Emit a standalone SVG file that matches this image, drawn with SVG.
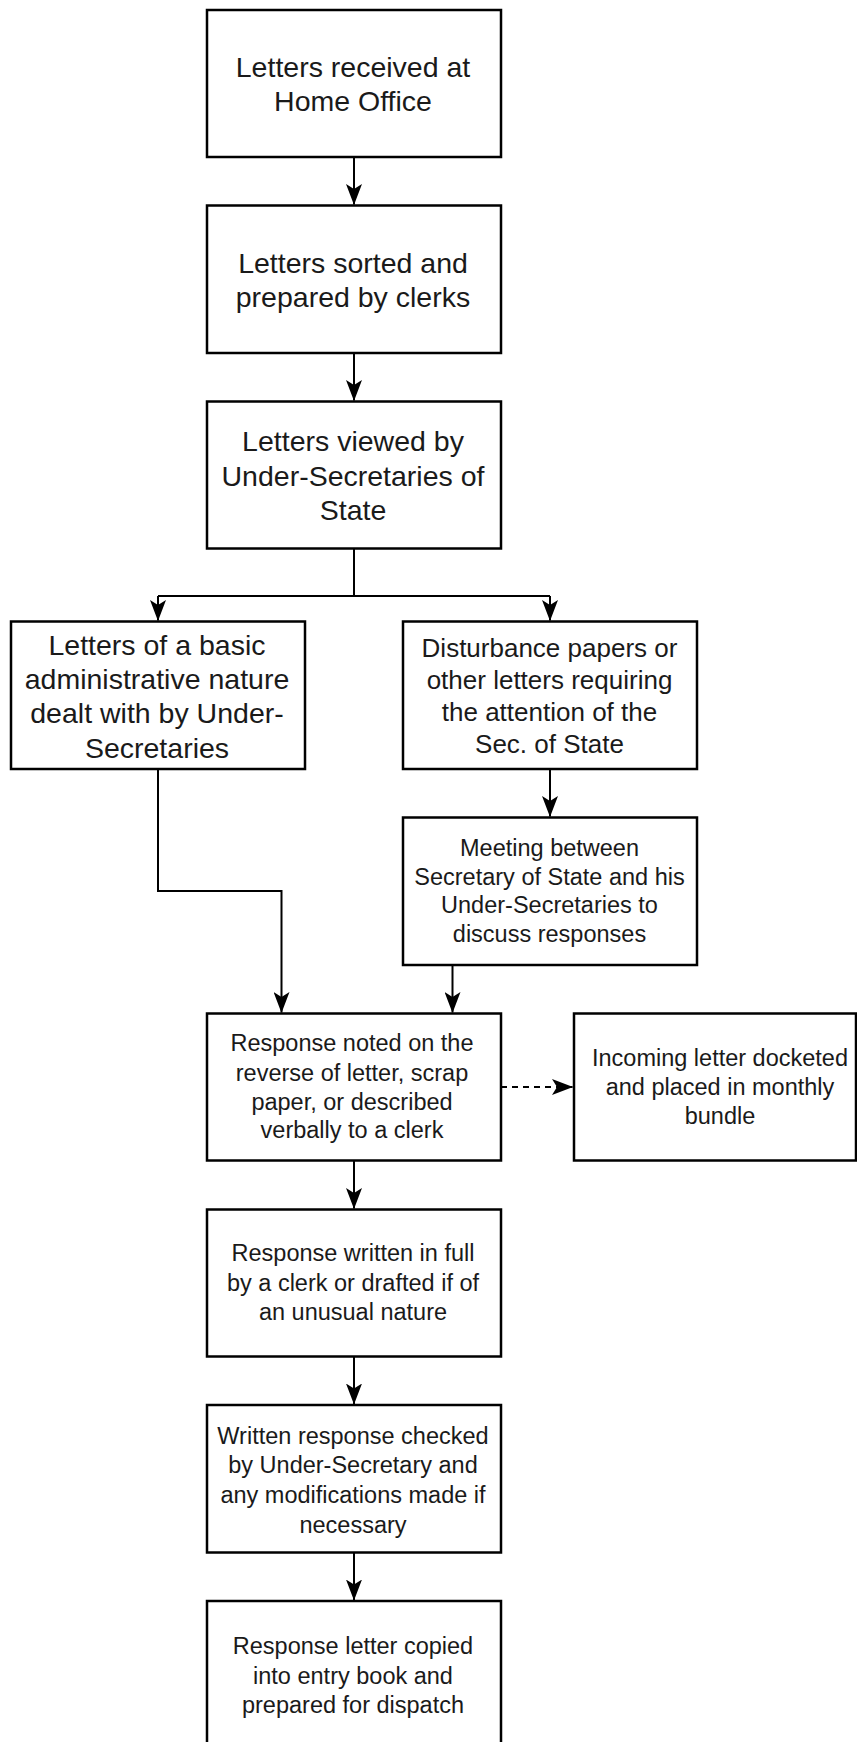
<svg xmlns="http://www.w3.org/2000/svg" width="857" height="1742" viewBox="0 0 857 1742">
<style>
.box{fill:#fff;stroke:#000;stroke-width:2.5}
.t{font-family:"Liberation Sans",Arial,sans-serif;fill:#1a1a1a;text-anchor:middle}
.big{font-size:28.5px}
.mid{font-size:26px}
.sm{font-size:23.5px}
.c{fill:none;stroke:#000;stroke-width:2}
.d{stroke-dasharray:6 5}
</style>
<defs>
<marker id="ah" viewBox="0 0 21 16" refX="20.5" refY="8" markerWidth="21" markerHeight="16" markerUnits="userSpaceOnUse" orient="auto">
<path d="M0,0 L21,8 L0,16 L5,8 Z" fill="#000"/>
</marker>
</defs>
<rect width="857" height="1742" fill="#fff"/>
<g id="connectors">
<path class="c" d="M354,157 V204.5" marker-end="url(#ah)"/>
<path class="c" d="M354,353 V400.5" marker-end="url(#ah)"/>
<path class="c" d="M354,548 V596 M158,596 H550"/>
<path class="c" d="M158,596 V620.5" marker-end="url(#ah)"/>
<path class="c" d="M550,596 V620.5" marker-end="url(#ah)"/>
<path class="c" d="M550,769 V816.5" marker-end="url(#ah)"/>
<path class="c" d="M158,769 V891 H281.5 V1012.5" marker-end="url(#ah)"/>
<path class="c" d="M452.5,965 V1012.5" marker-end="url(#ah)"/>
<path class="c d" d="M501,1087 H572.5" marker-end="url(#ah)"/>
<path class="c" d="M354,1161 V1208.5" marker-end="url(#ah)"/>
<path class="c" d="M354,1356 V1404" marker-end="url(#ah)"/>
<path class="c" d="M354,1552 V1600" marker-end="url(#ah)"/>
</g>
<g id="n1"><rect class="box" x="207" y="10" width="294" height="147"/>
<text class="t big" x="353" y="77">Letters received at</text>
<text class="t big" x="353" y="111">Home Office</text></g>
<g id="n2"><rect class="box" x="207" y="205.5" width="294" height="147.5"/>
<text class="t big" x="353" y="273">Letters sorted and</text>
<text class="t big" x="353" y="307">prepared by clerks</text></g>
<g id="n3"><rect class="box" x="207" y="401.5" width="294" height="147"/>
<text class="t big" x="353" y="451">Letters viewed by</text>
<text class="t big" x="353" y="485.5">Under-Secretaries of</text>
<text class="t big" x="353" y="520">State</text></g>
<g id="n4"><rect class="box" x="11" y="621.5" width="294" height="147.5"/>
<text class="t big" x="157" y="655">Letters of a basic</text>
<text class="t big" x="157" y="689">administrative nature</text>
<text class="t big" x="157" y="723">dealt with by Under-</text>
<text class="t big" x="157" y="757.5">Secretaries</text></g>
<g id="n5"><rect class="box" x="403" y="621.5" width="294" height="147.5"/>
<text class="t mid" x="549.5" y="657">Disturbance papers or</text>
<text class="t mid" x="549.5" y="689">other letters requiring</text>
<text class="t mid" x="549.5" y="721">the attention of the</text>
<text class="t mid" x="549.5" y="752.5">Sec. of State</text></g>
<g id="n6"><rect class="box" x="403" y="817.5" width="294" height="147.5"/>
<text class="t sm" x="549.5" y="855.5">Meeting between</text>
<text class="t sm" x="549.5" y="884.5">Secretary of State and his</text>
<text class="t sm" x="549.5" y="913">Under-Secretaries to</text>
<text class="t sm" x="549.5" y="942">discuss responses</text></g>
<g id="n7"><rect class="box" x="207" y="1013.5" width="294" height="147"/>
<text class="t sm" x="352" y="1051">Response noted on the</text>
<text class="t sm" x="352" y="1080.5">reverse of letter, scrap</text>
<text class="t sm" x="352" y="1109.5">paper, or described</text>
<text class="t sm" x="352" y="1138">verbally to a clerk</text></g>
<g id="n8"><rect class="box" x="574" y="1013.5" width="282" height="147"/>
<text class="t sm" x="720" y="1066">Incoming letter docketed</text>
<text class="t sm" x="720" y="1095">and placed in monthly</text>
<text class="t sm" x="720" y="1123.5">bundle</text></g>
<g id="n9"><rect class="box" x="207" y="1209.5" width="294" height="147"/>
<text class="t sm" x="353" y="1261">Response written in full</text>
<text class="t sm" x="353" y="1290.5">by a clerk or drafted if of</text>
<text class="t sm" x="353" y="1320">an unusual nature</text></g>
<g id="n10"><rect class="box" x="207" y="1405" width="294" height="147.5"/>
<text class="t sm" x="353" y="1443.5">Written response checked</text>
<text class="t sm" x="353" y="1473">by Under-Secretary and</text>
<text class="t sm" x="353" y="1503">any modifications made if</text>
<text class="t sm" x="353" y="1532.5">necessary</text></g>
<g id="n11"><rect class="box" x="207" y="1601" width="294" height="150"/>
<text class="t sm" x="353" y="1653.5">Response letter copied</text>
<text class="t sm" x="353" y="1683.5">into entry book and</text>
<text class="t sm" x="353" y="1713">prepared for dispatch</text></g>
</svg>
